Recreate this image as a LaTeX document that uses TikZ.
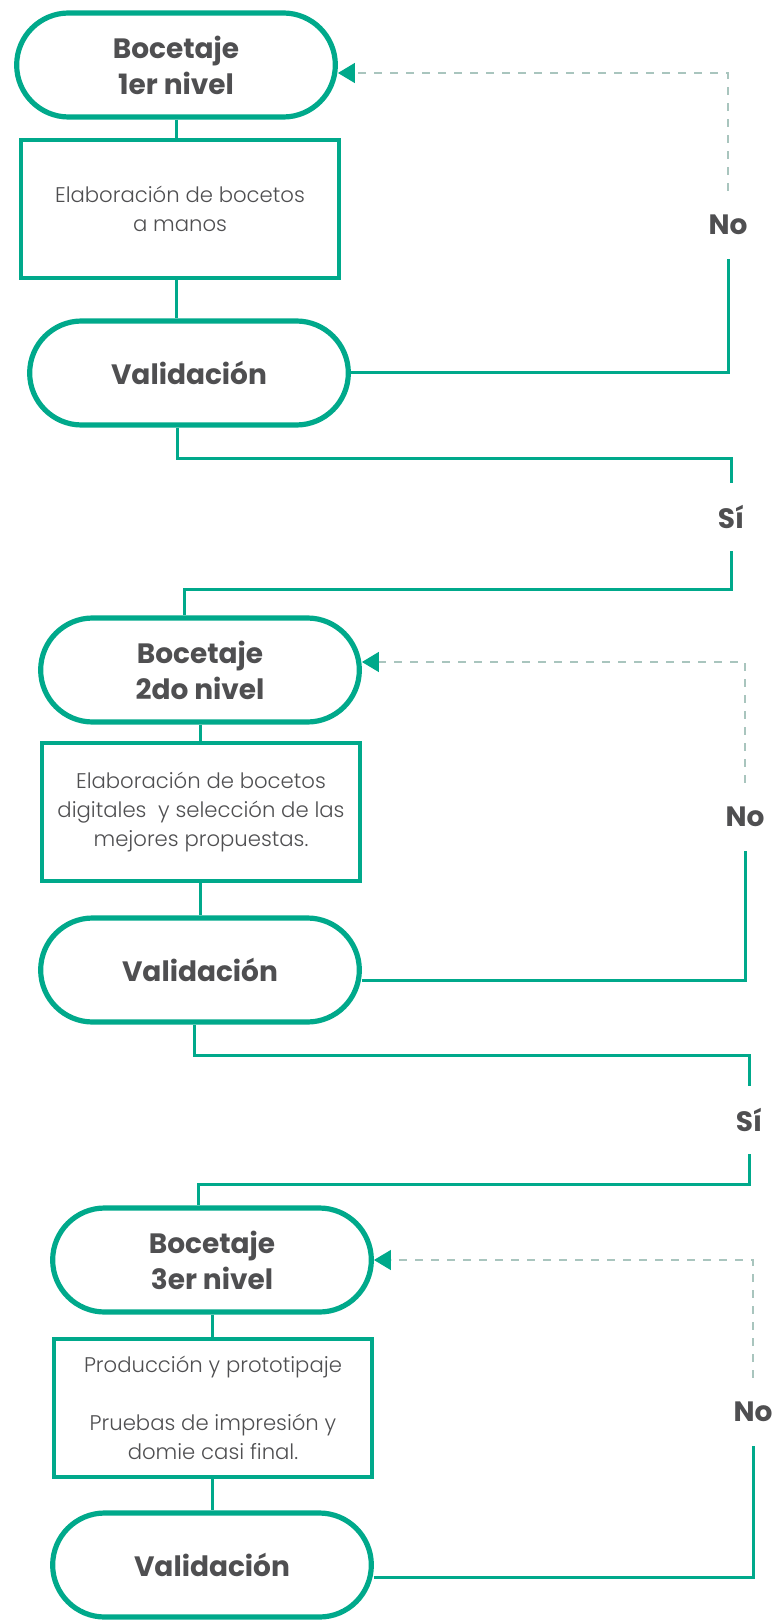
\documentclass[tikz,border=0pt]{standalone}
\usepackage{fontspec}
\setmainfont{Poppins}
\newfontfamily\lightfont{Poppins Light}
\usepackage{xcolor}
\usetikzlibrary{shapes.misc,arrows.meta,positioning,calc}

\definecolor{flowgreen}{HTML}{00A98B}
\definecolor{textgray}{HTML}{4F4F51}
\definecolor{dashgray}{HTML}{A9C5BE}

\tikzset{
    stage/.style={rounded rectangle, draw=flowgreen, line width=2.6pt, minimum width=166pt,
        minimum height=52pt, text=textgray, align=center, font=\bfseries\fontsize{14}{18}\selectfont},
    task/.style={rectangle, draw=flowgreen, line width=2.4pt, minimum width=159pt, minimum height=69pt,
        text=textgray, align=center, font=\lightfont\fontsize{10.6}{14.5}\selectfont},
    answer/.style={text=textgray, inner sep=0pt, minimum height=34pt, font=\bfseries\fontsize{14}{16}\selectfont},
    flow/.style={draw=flowgreen, line width=1.5pt},
    back/.style={draw=dashgray, line width=0.7pt, dash pattern=on 4pt off 4pt,
        -{Triangle[color=flowgreen, length=8.5pt, width=10pt]}}
}

\begin{document}
\begin{tikzpicture}[x=0.5pt, y=-0.5pt]
    \useasboundingbox (0,0) rectangle (779,1620);

    % Level 1
    \node[stage] (st1) at (176,65) {Bocetaje\\1er nivel};
    \node[task] (box1) at (180,209) {Elaboración de bocetos\\a manos};
    \node[stage] (val1) at (189,373) {Validación};
    \node[answer] (no1) at (728,225) {No};
    \node[answer] (si1) at (731,517) {Sí};

    \draw[flow] (st1.south) -- (st1.south |- box1.north);
    \draw[flow] (st1.south |- box1.south) -- (st1.south |- val1.north);
    \draw[flow] (val1.east) -| (no1.south);
    \draw[back] (no1.north) |- ([yshift=-4pt]st1.east);
    \draw[flow] ([xshift=-6pt]val1.south) -- ++(0,31) -| (si1.north);

    % Level 2
    \node[stage] (st2) at (200,670) {Bocetaje\\2do nivel};
    \node[task] (box2) at (201,812) {Elaboración de bocetos\\digitales~ y selección de las\\mejores propuestas.};
    \node[stage] (val2) at (200,970) {Validación};
    \node[answer] (no2) at (745,817) {No};
    \node[answer] (si2) at (749,1120) {Sí};

    \draw[flow] (si1.south) -- ++(0,38) -| ([xshift=-8pt]st2.north);
    \draw[flow] (st2.south) -- (st2.south |- box2.north);
    \draw[flow] (st2.south |- box2.south) -- (st2.south |- val2.north);
    \draw[flow] ([yshift=-5pt]val2.east) -| (no2.south);
    \draw[back] (no2.north) |- ([yshift=4pt]st2.east);
    \draw[flow] ([xshift=-3pt]val2.south) -- ++(0,31) -| (si2.north);

    % Level 3
    \node[stage] (st3) at (212,1260) {Bocetaje\\3er nivel};
    \node[task] (box3) at (213,1408) {Producción y prototipaje\\[14.5pt]Pruebas de impresión y\\domie casi final.};
    \node[stage] (val3) at (212,1565) {Validación};
    \node[answer] (no3) at (753,1412) {No};

    \draw[flow] (si2.south) -- ++(0,30) -| ([xshift=-7pt]st3.north);
    \draw[flow] (st3.south) -- (st3.south |- box3.north);
    \draw[flow] (st3.south |- box3.south) -- (st3.south |- val3.north);
    \draw[flow] ([yshift=-6pt]val3.east) -| (no3.south);
    \draw[back] (no3.north) |- (st3.east);
\end{tikzpicture}
\end{document}
